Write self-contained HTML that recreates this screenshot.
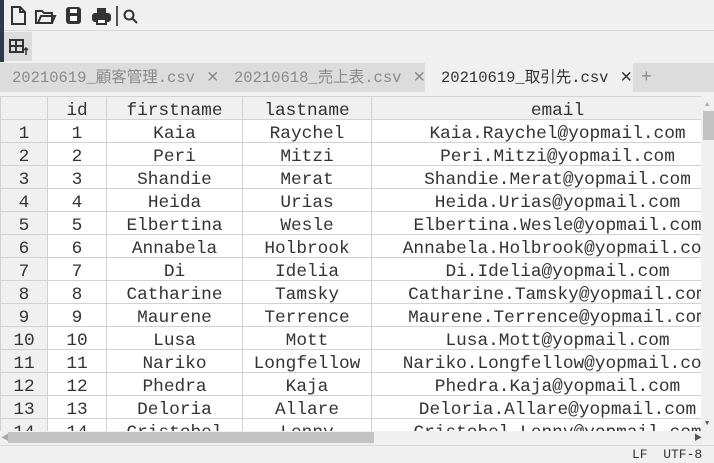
<!DOCTYPE html>
<html><head><meta charset="utf-8"><style>
*{margin:0;padding:0;box-sizing:border-box}
body{width:714px;height:463px;overflow:hidden;background:#f0f0f0;position:relative;font-family:"Liberation Mono","Noto Sans CJK JP",monospace;color:#333}
.abs{position:absolute}
table{border-collapse:collapse;table-layout:fixed;position:absolute;left:0;top:96px;width:743px}
td{height:16px;border:1px solid #d2d2d2;text-align:center;font-size:17.8px;line-height:16px;white-space:nowrap;overflow:hidden;background:#fff;padding:6px 0 0 0;vertical-align:top}
tr.h td{height:19px;padding-top:6px;background:#f0f0f0}
td.n{background:#f0f0f0}
.tab{position:absolute;top:64px;height:29px;line-height:29px;font-size:15.5px;color:#8a8a8a}
</style></head><body>
<div class="abs" style="left:0;top:0;width:4px;height:62px;background:#2e3a48"></div>
<div class="abs" style="left:4px;top:30px;width:710px;height:1px;background:#d8d8d8"></div>
<svg class="abs" style="left:8px;top:4px" width="140" height="24" viewBox="0 0 140 24" fill="none" stroke="#333" stroke-width="2">
<path d="M4 3h8l5 5v12H4z M12 3v5h5"/>
<path d="M28 7h6l2 2h8v10H28z M30 19l3-7h14l-3 7" />
<rect x="59" y="4" width="13" height="15" rx="2" fill="#333"/><rect x="62" y="5" width="7" height="4" fill="#fff" stroke="none"/><rect x="62" y="12" width="7" height="5" fill="#fff" stroke="none"/>
<rect x="85" y="10" width="17" height="7" rx="2" fill="#333"/><rect x="89" y="4" width="9" height="5" fill="#333" stroke="none"/><rect x="89" y="15" width="9" height="5" fill="#fff"/>
<line x1="109" y1="2" x2="109" y2="22" stroke="#555"/>
<circle cx="121" cy="11" r="4.5"/><line x1="124" y1="14" x2="129" y2="19"/>
</svg>
<div class="abs" style="left:4px;top:32px;width:28px;height:29px;background:#dcdcdc"></div>
<svg class="abs" style="left:8px;top:36px" width="22" height="22" fill="none" stroke="#333" stroke-width="2"><rect x="2" y="4" width="13" height="12"/><line x1="2" y1="10" x2="15" y2="10"/><line x1="8" y1="4" x2="8" y2="16"/><path d="M18 19v-7M16 14l2-2 2 2" stroke-width="1.5"/></svg>
<div class="abs" style="left:0;top:63px;width:714px;height:29px;background:#dcdcdc"></div>
<div class="abs" style="left:425px;top:63px;width:208px;height:30px;background:#f0f0f0"></div>
<div class="tab" style="left:12px">20210619_顧客管理.csv <span style="margin-left:2px">✕</span></div>
<div class="tab" style="left:234px">20210618_売上表.csv <span style="margin-left:2px">✕</span></div>
<div class="tab" style="left:441px;color:#333">20210619_取引先.csv <span style="margin-left:2px">✕</span></div>
<div class="tab" style="left:641px;font-size:18px">+</div>
<table>
<colgroup><col style="width:47px"><col style="width:59px"><col style="width:136px"><col style="width:129px"><col style="width:372px"></colgroup>
<tr class="h"><td></td><td>id</td><td>firstname</td><td>lastname</td><td>email</td></tr>
<tr><td class="n">1</td><td>1</td><td>Kaia</td><td>Raychel</td><td>Kaia.Raychel@yopmail.com</td></tr>
<tr><td class="n">2</td><td>2</td><td>Peri</td><td>Mitzi</td><td>Peri.Mitzi@yopmail.com</td></tr>
<tr><td class="n">3</td><td>3</td><td>Shandie</td><td>Merat</td><td>Shandie.Merat@yopmail.com</td></tr>
<tr><td class="n">4</td><td>4</td><td>Heida</td><td>Urias</td><td>Heida.Urias@yopmail.com</td></tr>
<tr><td class="n">5</td><td>5</td><td>Elbertina</td><td>Wesle</td><td>Elbertina.Wesle@yopmail.com</td></tr>
<tr><td class="n">6</td><td>6</td><td>Annabela</td><td>Holbrook</td><td>Annabela.Holbrook@yopmail.com</td></tr>
<tr><td class="n">7</td><td>7</td><td>Di</td><td>Idelia</td><td>Di.Idelia@yopmail.com</td></tr>
<tr><td class="n">8</td><td>8</td><td>Catharine</td><td>Tamsky</td><td>Catharine.Tamsky@yopmail.com</td></tr>
<tr><td class="n">9</td><td>9</td><td>Maurene</td><td>Terrence</td><td>Maurene.Terrence@yopmail.com</td></tr>
<tr><td class="n">10</td><td>10</td><td>Lusa</td><td>Mott</td><td>Lusa.Mott@yopmail.com</td></tr>
<tr><td class="n">11</td><td>11</td><td>Nariko</td><td>Longfellow</td><td>Nariko.Longfellow@yopmail.com</td></tr>
<tr><td class="n">12</td><td>12</td><td>Phedra</td><td>Kaja</td><td>Phedra.Kaja@yopmail.com</td></tr>
<tr><td class="n">13</td><td>13</td><td>Deloria</td><td>Allare</td><td>Deloria.Allare@yopmail.com</td></tr>
<tr><td class="n">14</td><td>14</td><td>Cristobel</td><td>Lenny</td><td>Cristobel.Lenny@yopmail.com</td></tr>
</table>
<div class="abs" style="left:701px;top:96px;width:13px;height:335px;background:#f0f0f0"></div>
<div class="abs" style="left:703px;top:111px;width:11px;height:29px;background:#c2c2c2"></div>
<div class="abs" style="left:705px;top:101px;font-size:7px;color:#aaa">▲</div>
<div class="abs" style="left:705px;top:420px;font-size:7px;color:#555">▼</div>
<div class="abs" style="left:0;top:431px;width:714px;height:32px;background:#f0f0f0"></div>
<div class="abs" style="left:8px;top:432px;width:366px;height:11px;background:#c2c2c2"></div>
<div class="abs" style="left:1px;top:432px;font-size:8px;color:#aaa">◀</div>
<div class="abs" style="left:694px;top:432px;font-size:8px;color:#555">▶</div>
<div class="abs" style="left:0;top:445px;width:714px;height:1px;background:#d8d8d8"></div>
<div class="abs" style="left:632px;top:447px;font-size:13px;color:#333">LF&nbsp;&nbsp;UTF-8</div>
</body></html>
